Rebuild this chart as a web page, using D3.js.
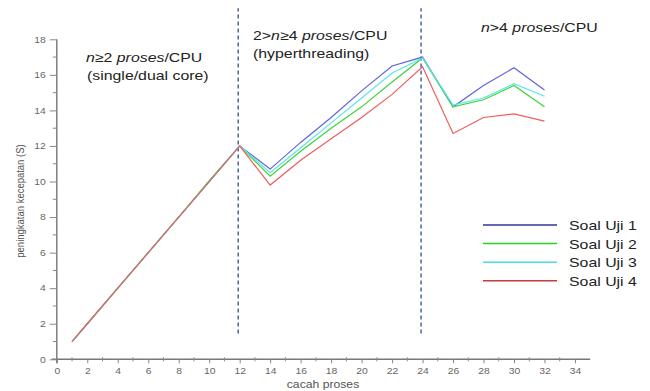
<!DOCTYPE html>
<html>
<head>
<meta charset="utf-8">
<script src="https://cdn.jsdelivr.net/npm/d3@7"></script>
<style>
  body { margin: 0; background: #fff; }
  svg { display: block; font-family: "Liberation Sans", Arial, sans-serif; }
</style>
</head>
<body>
<div id="chart"></div>
<script>
// data
const procs = [1, 2, 4, 6, 8, 10, 12, 14, 16, 18, 20, 22, 24, 26, 28, 30, 32];
const soal1 = [1, 2, 4, 6, 8, 10, 12, 10.7, 12.2, 13.6, 15.1, 16.5, 17.0, 14.2, 15.4, 16.4, 15.15];
const soal2 = [1, 2, 4, 6, 8, 10.05, 12, 10.3, 11.7, 13.0, 14.2, 15.6, 16.95, 14.2, 14.6, 15.4, 14.2];
const soal3 = [1, 2, 4, 6, 8, 10, 12, 10.5, 11.9, 13.3, 14.7, 16.1, 16.95, 14.3, 14.7, 15.5, 14.8];
const soal4 = [1, 2, 4, 6, 8, 10, 12, 9.8, 11.2, 12.4, 13.6, 14.9, 16.45, 12.7, 13.6, 13.8, 13.4];
const seriesNames = ["Soal Uji 1", "Soal Uji 2", "Soal Uji 3", "Soal Uji 4"];
const colors = ["#6262dc", "#3cd43c", "#5ae6e6", "#ee5e5e"];
const legendColors = ["#34349c", "#28d028", "#40e0e0", "#c83c3c"];
const xTicks = d3.range(0, 35, 2);
const yTicks = d3.range(0, 19, 2);
const dividers = [12, 24];

const width = 650, height = 391;
const stretch = 1.22; // gambar asli agak melebar horizontal

const svg = d3.select("#chart").append("svg")
  .attr("width", width)
  .attr("height", height);

const x = d3.scaleLinear().domain([0, 35]).range([56.8, 590.2]);
const y = d3.scaleLinear().domain([0, 18]).range([359.3, 39.3]);

// sumbu x
const xAxis = svg.append("g")
  .attr("transform", `translate(0,${y(0)})`)
  .call(d3.axisBottom(x).tickValues(xTicks).tickSize(4).tickPadding(5).tickFormat(d3.format("d")));
xAxis.append("g").selectAll("line")
  .data(d3.range(1, 35, 2))
  .join("line")
  .attr("x1", d => x(d)).attr("x2", d => x(d))
  .attr("y1", -2).attr("y2", 2)
  .attr("stroke", "#888");
xAxis.select(".domain").attr("d", `M${x(0) - 5},0H${x(35)}`);

// sumbu y
const yAxis = svg.append("g")
  .attr("transform", `translate(${x(0)},0)`)
  .call(d3.axisLeft(y).tickValues(yTicks).tickSize(7).tickPadding(4).tickFormat(d3.format("d")));
yAxis.append("g").selectAll("line")
  .data(d3.range(1, 18, 2))
  .join("line")
  .attr("x1", -4).attr("x2", 0)
  .attr("y1", d => y(d)).attr("y2", d => y(d))
  .attr("stroke", "#888");
yAxis.select(".domain").attr("d", `M0,${y(18)}V${y(0) + 4}`);

[xAxis, yAxis].forEach(a => {
  a.select(".domain").attr("stroke", "#777").attr("stroke-width", 1.4);
  a.selectAll(".tick line").attr("stroke", "#888");
  a.selectAll(".tick text")
    .attr("fill", "#666")
    .attr("font-size", "8.5px")
    .attr("font-family", "\"Liberation Sans\", Arial, sans-serif");
});
xAxis.selectAll(".tick text").attr("transform", `scale(${stretch},1)`);
yAxis.selectAll(".tick text").attr("x", -11 / stretch).attr("transform", `scale(${stretch},1)`);

// judul sumbu
svg.append("text")
  .attr("transform", `translate(323,388) scale(${stretch},1)`)
  .attr("text-anchor", "middle")
  .attr("font-size", "10px")
  .attr("fill", "#555")
  .text("cacah proses");

svg.append("text")
  .attr("transform", `translate(24,201) rotate(-90) scale(1,${stretch})`)
  .attr("text-anchor", "middle")
  .attr("font-size", "9.5px")
  .attr("fill", "#555")
  .text("peningkatan kecepatan (S)");

// garis putus-putus pembatas
svg.append("g").selectAll("line")
  .data(dividers)
  .join("line")
  .attr("x1", d => x(d) - 1.5).attr("x2", d => x(d) - 1.5)
  .attr("y1", y(1.45)).attr("y2", y(19.75))
  .attr("stroke", "#2d4f8f")
  .attr("stroke-width", 1.3)
  .attr("stroke-dasharray", "4,3");

// garis data
const allSeries = [soal1, soal2, soal3, soal4];
const line = d3.line()
  .x((d, i) => x(procs[i]))
  .y(d => y(d));

allSeries.forEach((s, k) => {
  svg.append("path")
    .datum(s)
    .attr("fill", "none")
    .attr("stroke", colors[k])
    .attr("stroke-width", 1.2)
    .attr("d", line);
});

// anotasi
function note(x0, y0, parts) {
  const t = svg.append("text")
    .attr("transform", `translate(${x0},${y0}) scale(${stretch},1)`)
    .attr("font-size", "13px")
    .attr("fill", "#222");
  parts.forEach(p => {
    t.append("tspan")
      .attr("font-style", p[1] ? "italic" : "normal")
      .text(p[0]);
  });
}
note(86, 62, [["n", true], ["≥2 ", false], ["proses", true], ["/CPU", false]]);
note(87, 80, [["(single/dual core)", false]]);
note(253, 40, [["2>", false], ["n", true], ["≥4 ", false], ["proses", true], ["/CPU", false]]);
note(253, 58, [["(hyperthreading)", false]]);
note(481, 32, [["n", true], [">4 ", false], ["proses", true], ["/CPU", false]]);

// legenda
const legend = svg.append("g");
seriesNames.forEach((name, i) => {
  const ly = 225 + i * 18.6;
  legend.append("line")
    .attr("x1", 483).attr("x2", 557)
    .attr("y1", ly).attr("y2", ly)
    .attr("stroke", legendColors[i])
    .attr("stroke-width", 1.5);
  legend.append("text")
    .attr("transform", `translate(569,${ly + 5}) scale(${stretch},1)`)
    .attr("font-size", "13px")
    .attr("fill", "#222")
    .text(name);
});
</script>
</body>
</html>
